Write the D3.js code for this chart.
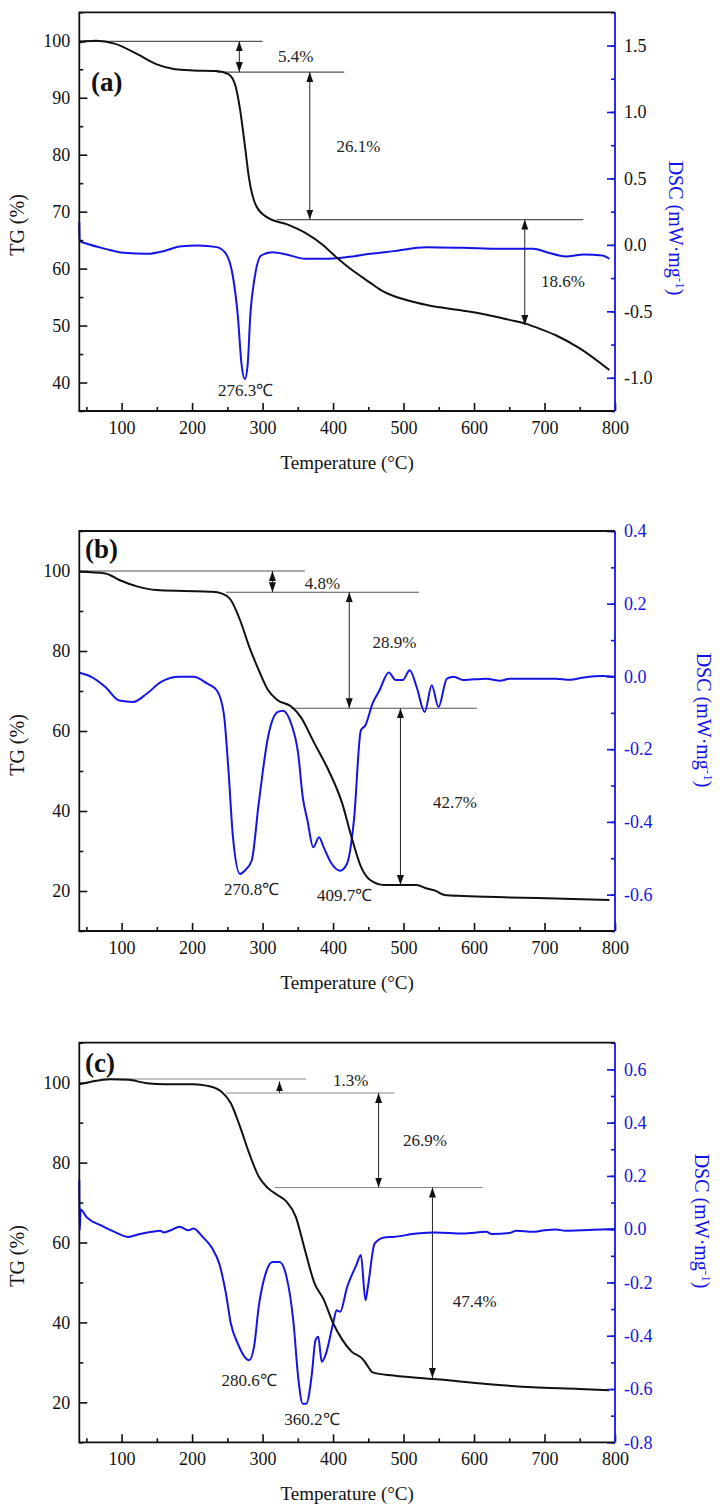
<!DOCTYPE html>
<html><head><meta charset="utf-8">
<script src="https://cdn.jsdelivr.net/npm/d3@7"></script>
<style>
html,body{margin:0;padding:0;background:#fff;}
svg text{font-family:"Liberation Serif","Times New Roman",serif;}
</style></head>
<body><svg id="c" width="726" height="1512"></svg>
<script>
// ---------------- DATA ----------------
const tempTicks = [100,200,300,400,500,600,700,800];

// Panel (a)
const tgA = [[40,99.7],[50,99.9],[64,100],[90,99.5],[123,97.6],[149,95.9],[176,95.0],[202,94.8],[235,94.7],[252,94.1],[261.5,92.1],[268,88],[275,81.5],[281,75.7],[291,71],[308,68.9],[334,67.8],[360,66.3],[387,64],[400,62.5],[420,60.4],[453,57.5],[471,56.0],[486,55.2],[519,54],[541,53.4],[552,53.2],[585,52.6],[618,51.9],[650,51],[674,50.3],[690,49.6],[716,48.3],[750,46],[792,42.2]];
const dscA = [[40,0.17],[40.6,0.03],[50,0.01],[77,-0.03],[103,-0.06],[136,-0.067],[163,-0.042],[182,-0.012],[209,-0.005],[235,-0.017],[248,-0.067],[258,-0.24],[265,-0.54],[270,-0.89],[275,-1.01],[279,-0.89],[282.5,-0.54],[289,-0.24],[298,-0.08],[314,-0.055],[334,-0.072],[360,-0.105],[387,-0.105],[420,-0.092],[453,-0.067],[486,-0.047],[532,-0.017],[585,-0.022],[637,-0.03],[684,-0.03],[703,-0.055],[730,-0.087],[756,-0.072],[782,-0.08],[792,-0.105]];
const levelsA = [[40,300,99.9],[235,416,94.5],[320,755,68.6]];
const arrowsA = [[267,99.9,94.5,2],[367,94.5,68.6,2],[672,68.6,50.1,2]];
const labelsA = [[347,97.3,"5.4%"],[436,81.5,"26.1%"],[726,57.8,"18.6%"],[276,38.7,"276.3℃"]];

// Panel (b)
const tgB = [[40,99.8],[77,99.4],[96.7,97.75],[123,96.1],[149,95.25],[189,95.0],[228.6,94.8],[241.7,94.4],[255,92.75],[268,87.75],[281,81.1],[294.5,75.25],[307.7,70.25],[321,67.75],[340.6,66.1],[353.8,63.6],[373.6,56.9],[393.4,50.25],[413,41.9],[426,33.6],[439.5,26.1],[452.7,22.75],[472.5,21.5],[499,21.5],[518.6,21.5],[532,20.7],[545,20.1],[558,19.0],[584.6,18.75],[650.5,18.4],[716,18.1],[792,17.75]];
const dscB = [[40,0.01],[57,-0.001],[77,-0.029],[96.7,-0.066],[116.5,-0.07],[136,-0.047],[156,-0.015],[182,-0.001],[202,-0.001],[222,-0.02],[235,-0.038],[245,-0.102],[251.6,-0.258],[258,-0.442],[268,-0.543],[274.7,-0.534],[284.6,-0.506],[294.5,-0.35],[307.7,-0.167],[321,-0.098],[328.8,-0.094],[340.6,-0.13],[350.5,-0.212],[357,-0.332],[363.7,-0.396],[372,-0.47],[380,-0.442],[386.8,-0.47],[396.7,-0.511],[410,-0.534],[419.8,-0.515],[429.6,-0.396],[439.5,-0.148],[446,-0.134],[456,-0.075],[466,-0.038],[479,0.011],[489,-0.01],[499,-0.01],[508.8,0.017],[518.6,-0.029],[530,-0.098],[540,-0.024],[549.6,-0.084],[561.5,-0.006],[571.4,-0.001],[584.6,-0.01],[617.5,-0.006],[637,-0.012],[650.5,-0.006],[716,-0.006],[736,-0.009],[756,-0.003],[782,0.001],[800,-0.001]];
const levelsB = [[40,360,100],[248,522,94.7],[340.6,604,65.7]];
const arrowsB = [[314,100,94.7,2],[423,94.7,65.7,2],[495.6,65.7,21.5,2]];
const labelsB = [[385,96.9,"4.8%"],[487,82.2,"28.9%"],[573,42.3,"42.7%"],[284.6,20.4,"270.8℃"],[416.5,19,"409.7℃"]];

// Panel (c)
const tgC = [[40,99.6],[57,100.25],[83.5,100.85],[110,100.7],[136,99.85],[162.6,99.6],[202,99.6],[222,99.2],[241.7,97.75],[255,94.85],[268,89],[281,82.35],[294.5,76.5],[307.7,73.6],[321,71.9],[334,70.25],[347,66.5],[360,58.2],[373.6,49.85],[386.8,45.7],[400,39.85],[413,35.7],[426,32.75],[442.8,30.7],[449.4,29],[456,27.5],[485.7,26.7],[551.6,25.7],[617.5,24.6],[683.5,23.75],[749.5,23.35],[792,23.0]];
const dscC = [[40,0.184],[40.6,-0.004],[42,0.074],[50,0.046],[70,0.015],[90,-0.01],[110,-0.029],[123,-0.02],[143,-0.01],[155,-0.006],[160,-0.012],[170,-0.004],[182.4,0.009],[195,-0.004],[202,0.003],[215,-0.029],[228.6,-0.072],[238.5,-0.129],[248,-0.241],[255,-0.354],[264.8,-0.429],[274.7,-0.48],[281,-0.492],[288,-0.44],[294.5,-0.292],[304.4,-0.166],[314,-0.123],[324,-0.123],[334,-0.179],[344,-0.354],[350.5,-0.555],[357,-0.655],[362,-0.655],[370,-0.542],[375,-0.417],[379,-0.404],[384,-0.498],[390,-0.467],[400,-0.354],[405,-0.304],[410,-0.31],[420,-0.217],[433,-0.135],[439.5,-0.097],[446,-0.267],[449.4,-0.217],[459,-0.054],[472.5,-0.031],[485.7,-0.029],[518.6,-0.016],[545,-0.012],[584.6,-0.016],[617.5,-0.01],[625,-0.018],[650.5,-0.014],[660,-0.006],[683.5,-0.01],[700,-0.004],[716,-0.001],[730,-0.006],[756,-0.004],[780,-0.001],[800,0.001]];
const levelsC = [[70,362,100.9],[248,487,97.4],[317.6,612,73.75]];
const arrowsC = [[324,100.3,97.4,1],[464.6,97.4,73.75,2],[541,73.75,26.1,2]];
const labelsC = [[425,100.7,"1.3%"],[530.5,85.7,"26.9%"],[601,45.4,"47.4%"],[281,25.7,"280.6℃"],[370,15.7,"360.2℃"]];

// ---------------- DRAW ----------------
const BLUE = "#1414e6";
const svg = d3.select("#c");
const defs = svg.append("defs");
defs.append("marker").attr("id","ah").attr("viewBox","0 0 10 10").attr("refX",10).attr("refY",5)
  .attr("markerWidth",10).attr("markerHeight",10).attr("markerUnits","userSpaceOnUse")
  .attr("orient","auto-start-reverse")
  .append("path").attr("d","M0,1.5 L10,5 L0,8.5 Z").attr("fill","#111");

const fmt = v => d3.format(".1f")(v).replace("−","-");

const panels = [
  {tag:"(a)", tagPos:[91,91], top:12.3, bottom:411, tg:[35,105], tgMajor:d3.range(40,101,10), tgMinor:d3.range(35,106,5),
   dsc:[-1.25,1.75], dscMajor:[-1,-0.5,0,0.5,1,1.5], dscMinor:d3.range(-1.25,1.76,0.25), dscLabelColor:"#111",
   tgData:tgA, dscData:dscA, levels:levelsA, arrows:arrowsA, labels:labelsA, tgTitleY:225, dscTitle:[676,228], levelColor:"#555"},
  {tag:"(b)", tagPos:[85,558], top:531, bottom:931, tg:[10,110], tgMajor:d3.range(20,101,20), tgMinor:d3.range(10,111,10),
   dsc:[-0.7,0.4], dscMajor:[-0.6,-0.4,-0.2,0,0.2,0.4], dscMinor:d3.range(-0.7,0.41,0.1), dscLabelColor:BLUE,
   tgData:tgB, dscData:dscB, levels:levelsB, arrows:arrowsB, labels:labelsB, tgTitleY:745, dscTitle:[704,720], levelColor:"#555"},
  {tag:"(c)", tagPos:[85,1072], top:1042.7, bottom:1442.3, tg:[10,110], tgMajor:d3.range(20,101,20), tgMinor:d3.range(10,111,10),
   dsc:[-0.8,0.7], dscMajor:[-0.8,-0.6,-0.4,-0.2,0,0.2,0.4,0.6], dscMinor:d3.range(-0.8,0.71,0.1), dscLabelColor:BLUE,
   tgData:tgC, dscData:dscC, levels:levelsC, arrows:arrowsC, labels:labelsC, tgTitleY:1256, dscTitle:[702,1221], levelColor:"#888"}
];

const L = 79.3, R = 615;

panels.forEach(p => {
  const g = svg.append("g");
  const x = d3.scaleLinear().domain([40,800]).range([L,R]);
  const y = d3.scaleLinear().domain(p.tg).range([p.bottom,p.top]);
  const y2 = d3.scaleLinear().domain(p.dsc).range([p.bottom,p.top]);

  // annotation lines (behind curves)
  const ann = g.append("g");
  p.levels.forEach(l => {
    ann.append("line").attr("x1",x(l[0])).attr("x2",x(l[1])).attr("y1",y(l[2])).attr("y2",y(l[2]))
      .attr("stroke",p.levelColor).attr("stroke-width",1.1);
  });
  p.arrows.forEach(a => {
    const ln = ann.append("line").attr("x1",x(a[0])).attr("x2",x(a[0])).attr("y1",y(a[1])).attr("y2",y(a[2]))
      .attr("stroke","#222").attr("stroke-width",1);
    if (a[3]===2) ln.attr("marker-start","url(#ah)").attr("marker-end","url(#ah)");
    else ln.attr("marker-end","url(#ah)").attr("y1",y(a[2])).attr("y2",y(a[1]));
  });

  // curves
  const lineTG = d3.line().x(d=>x(d[0])).y(d=>y(d[1])).curve(d3.curveMonotoneX);
  const lineDSC = d3.line().x(d=>x(d[0])).y(d=>y2(d[1])).curve(d3.curveMonotoneX);
  g.append("path").attr("d",lineDSC(p.dscData)).attr("fill","none").attr("stroke",BLUE).attr("stroke-width",2);
  g.append("path").attr("d",lineTG(p.tgData)).attr("fill","none").attr("stroke","#111").attr("stroke-width",2);

  // labels
  p.labels.forEach(t => {
    g.append("text").attr("x",x(t[0])).attr("y",y(t[1])).attr("dy","0.35em").attr("text-anchor","middle")
      .attr("font-size",17).attr("fill","#222").text(t[2]);
  });

  // axes
  const xb = g.append("g").attr("transform",`translate(0,${p.bottom})`)
    .call(d3.axisBottom(x).tickValues(tempTicks).tickSizeInner(-8).tickSizeOuter(0).tickPadding(10).tickFormat(d3.format("d")));
  const xm = g.append("g").attr("transform",`translate(0,${p.bottom})`)
    .call(d3.axisBottom(x).tickValues(d3.range(50,800,100)).tickSizeInner(-4).tickSizeOuter(0).tickFormat(""));
  const yl = g.append("g").attr("transform",`translate(${L},0)`)
    .call(d3.axisLeft(y).tickValues(p.tgMajor).tickSizeInner(-8).tickSizeOuter(0).tickPadding(9).tickFormat(d3.format("d")));
  const ylm = g.append("g").attr("transform",`translate(${L},0)`)
    .call(d3.axisLeft(y).tickValues(p.tgMinor.filter(v=>!p.tgMajor.includes(v))).tickSizeInner(-4).tickSizeOuter(0).tickFormat(""));
  const yr = g.append("g").attr("transform",`translate(${R},0)`)
    .call(d3.axisRight(y2).tickValues(p.dscMajor).tickSizeInner(-8).tickSizeOuter(0).tickPadding(9).tickFormat(fmt));
  const yrm = g.append("g").attr("transform",`translate(${R},0)`)
    .call(d3.axisRight(y2).tickValues(p.dscMinor).tickSizeInner(-4).tickSizeOuter(0).tickFormat(""));
  [xb,xm,yl,ylm,yr,yrm].forEach(a => { a.select(".domain").remove(); a.selectAll("text").attr("font-size",18).attr("font-family","Liberation Serif, serif"); });
  [xb,xm,yl,ylm].forEach(a => a.selectAll("line").attr("stroke","#111").attr("stroke-width",1.6));
  [yr,yrm].forEach(a => a.selectAll("line").attr("stroke",BLUE).attr("stroke-width",1.6));
  xb.selectAll("text").attr("fill","#111");
  yl.selectAll("text").attr("fill","#111");
  yr.selectAll("text").attr("fill",p.dscLabelColor);

  // frame
  g.append("path").attr("d",`M${R},${p.top} L${L},${p.top} L${L},${p.bottom} L${R},${p.bottom}`)
    .attr("fill","none").attr("stroke","#111").attr("stroke-width",1.8);
  g.append("line").attr("x1",R).attr("x2",R).attr("y1",p.top).attr("y2",p.bottom).attr("stroke",BLUE).attr("stroke-width",1.8);

  // titles
  g.append("text").attr("x",(L+R)/2).attr("y",p.bottom+58).attr("text-anchor","middle").attr("font-size",19).attr("fill","#111")
    .text("Temperature (°C)");
  g.append("text").attr("transform",`translate(24,${p.tgTitleY}) rotate(-90)`).attr("text-anchor","middle")
    .attr("font-size",20).attr("fill","#111").text("TG (%)");
  const dt = g.append("text").attr("transform",`translate(${p.dscTitle[0]-7},${p.dscTitle[1]}) rotate(90)`).attr("text-anchor","middle")
    .attr("font-size",20).attr("fill",BLUE);
  dt.append("tspan").text("DSC (mW·mg");
  dt.append("tspan").attr("dy",-7).attr("font-size",13).text("-1");
  dt.append("tspan").attr("dy",7).text(")");

  g.append("text").attr("x",p.tagPos[0]).attr("y",p.tagPos[1]).attr("font-size",27).attr("font-weight","bold").attr("fill","#111").text(p.tag);
});
</script></body></html>
